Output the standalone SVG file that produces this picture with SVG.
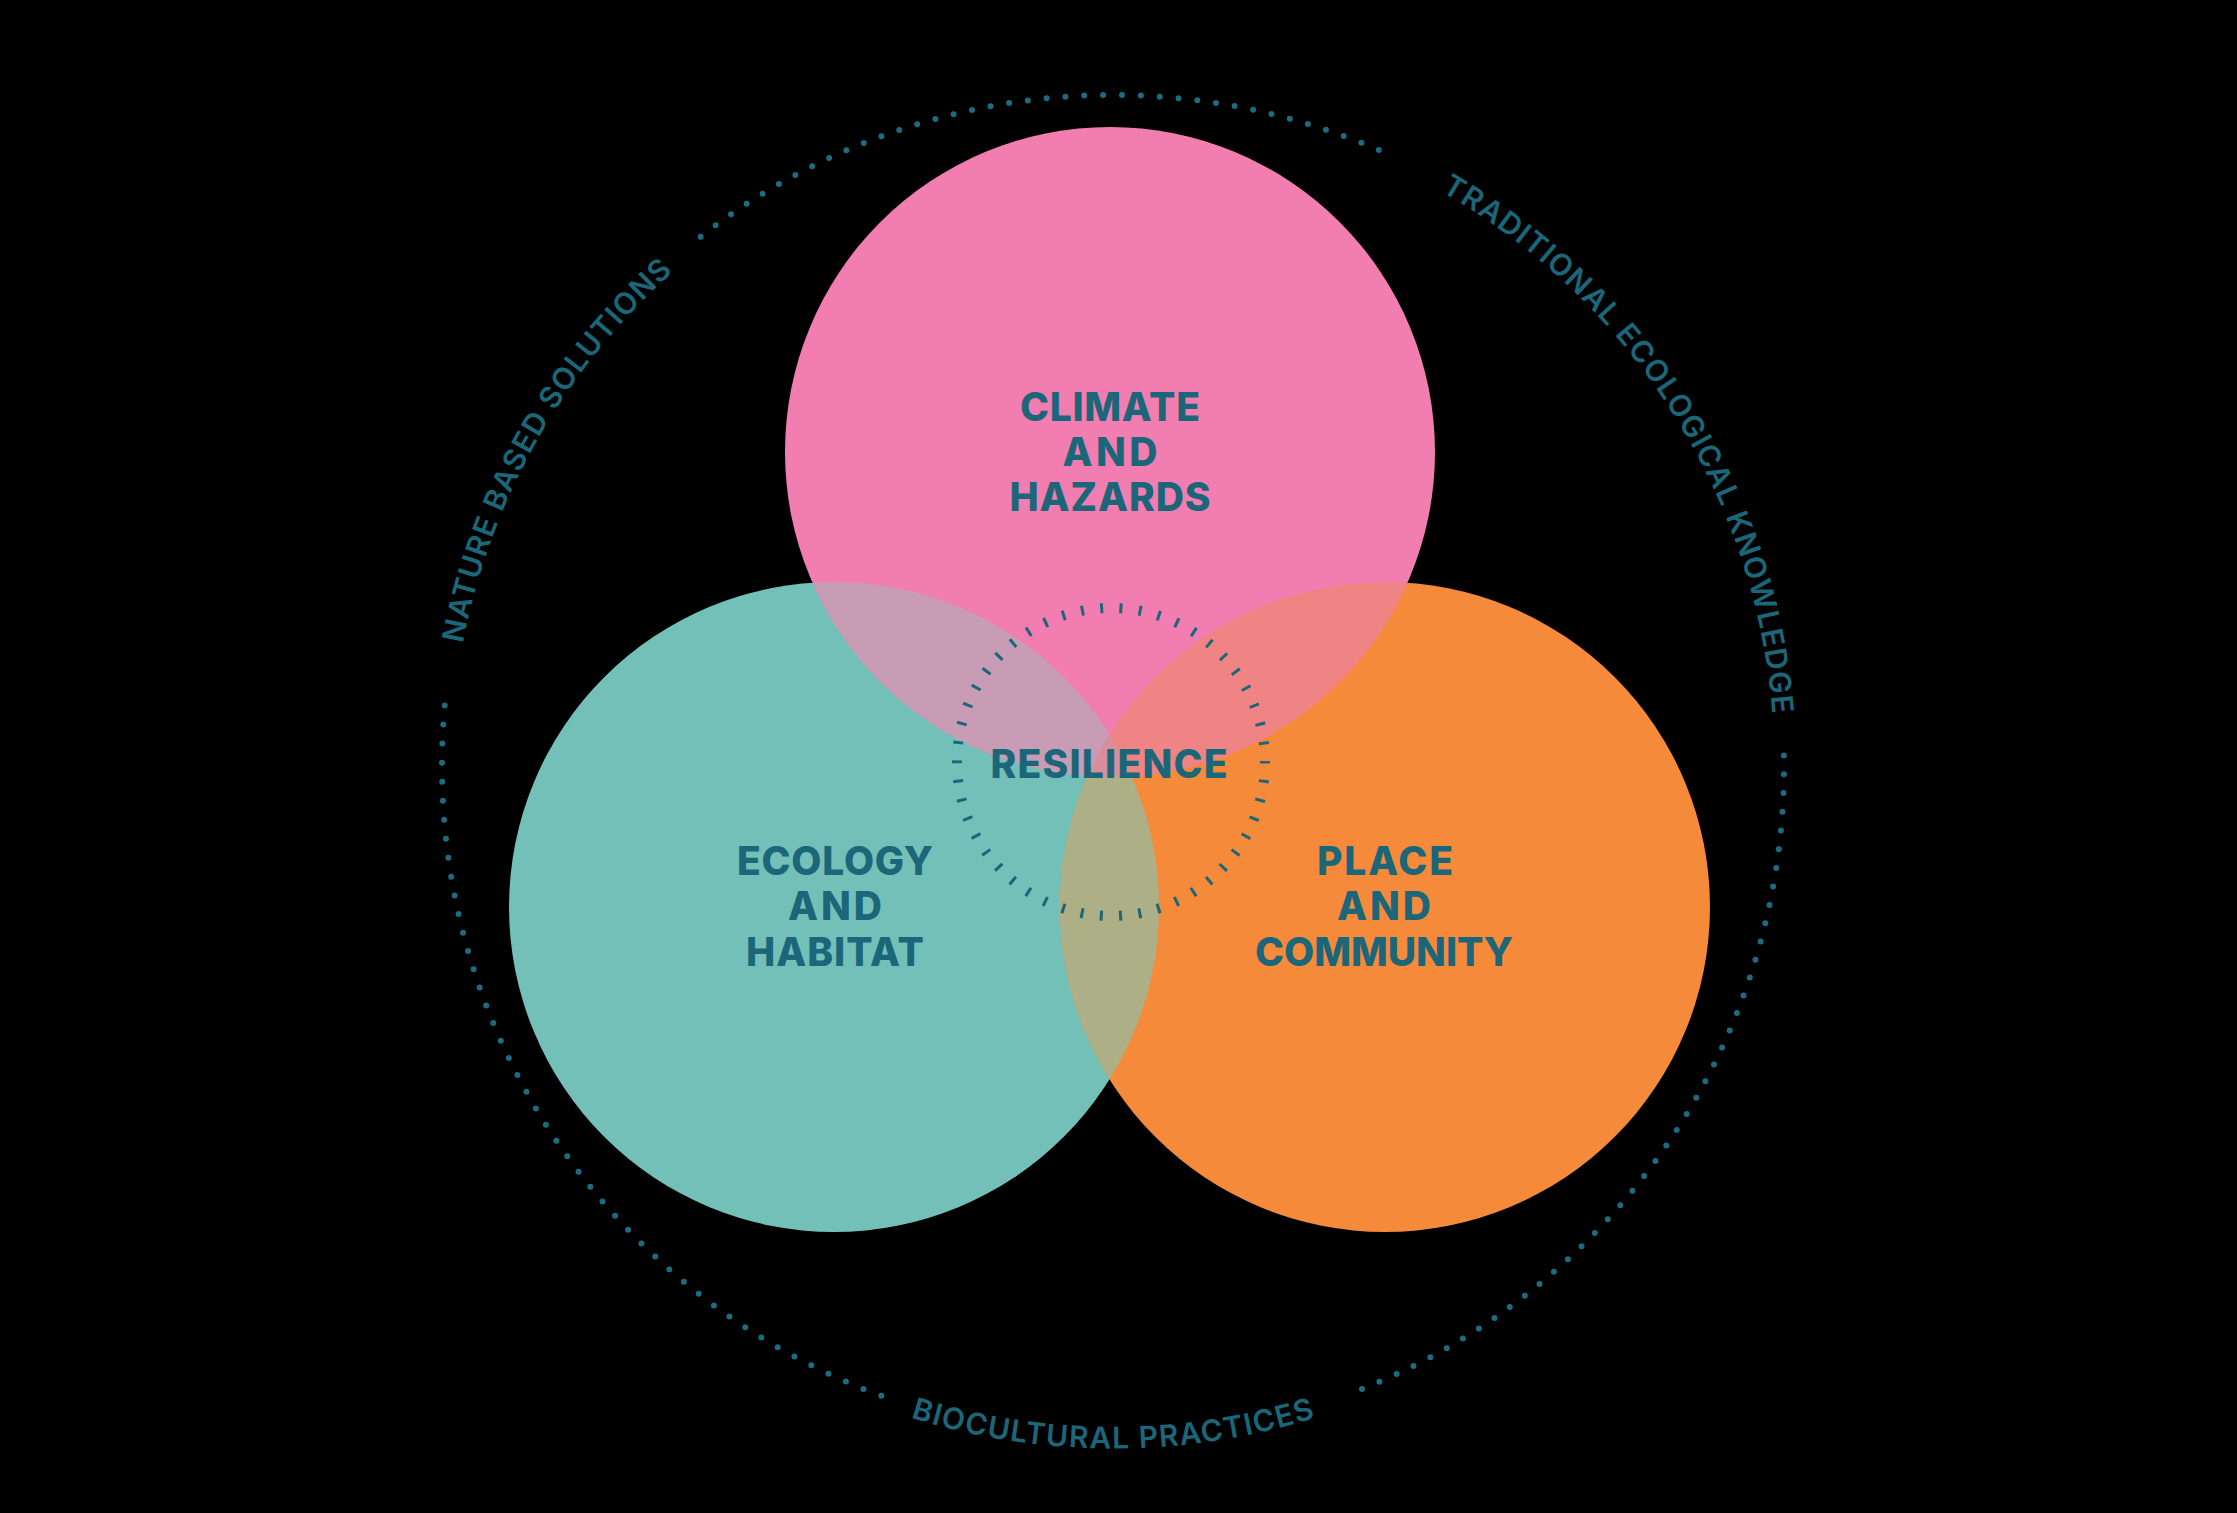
<svg xmlns="http://www.w3.org/2000/svg" width="2237" height="1513" viewBox="0 0 2237 1513">
  <style>
    .lbl { font-family: Inter, "Open Sans", "DejaVu Sans", sans-serif; font-weight: 800; font-size: 39px; fill: #1B6679; text-anchor: middle; }
    .ring-lbl { font-family: Inter, "Open Sans", "DejaVu Sans", sans-serif; font-weight: 600; font-size: 30px; fill: #1B6679; }
    .dots { fill: none; stroke: #1D6B80; stroke-width: 6; stroke-linecap: round; }
  </style>
  <defs>
    <clipPath id="cp-pink"><circle cx="1110" cy="452" r="325"/></clipPath>
    <clipPath id="cp-teal"><circle cx="834" cy="907" r="325"/></clipPath>
    <path id="arc-nature" d="M 462.6 886.55 A 661.5 661.5 0 0 1 881.34 146.4"/>
    <path id="arc-trad" d="M 1313.02 135.47 A 661.5 661.5 0 0 1 1768.69 853.49"/>
    <path id="arc-bio" d="M 674.3 1288.8 A 682.5 682.5 0 0 0 1551.7 1288.8"/>
  </defs>
  <rect x="0" y="0" width="2237" height="1513" fill="#000000"/>

  <g id="connectors">
    <path class="dots" stroke-dasharray="0 18.872" d="M 700.66 236.65 A 671 671 0 0 1 1395.52 157.38"/>
    <path class="dots" stroke-dasharray="0 18.817" d="M 1783.92 755.46 A 671 671 0 0 1 1344.70 1395.73"/>
    <path class="dots" stroke-dasharray="0 19.086" d="M 881.30 1395.73 A 671 671 0 0 1 446.72 686.55"/>
  </g>

  <g id="venn">
    <circle cx="834" cy="907" r="325" fill="#72C0B8"/>
    <circle cx="1385" cy="907" r="325" fill="#F58A3B"/>
    <circle cx="1110" cy="452" r="325" fill="#F27DB0"/>
    <circle cx="834" cy="907" r="325" fill="#C89CB5" clip-path="url(#cp-pink)"/>
    <circle cx="1385" cy="907" r="325" fill="#F08384" clip-path="url(#cp-pink)"/>
    <circle cx="1385" cy="907" r="325" fill="#ADAF86" clip-path="url(#cp-teal)"/>
    <g clip-path="url(#cp-pink)">
      <circle cx="1385" cy="907" r="325" fill="#D88E9C" clip-path="url(#cp-teal)"/>
    </g>
  </g>

  <g id="node-climate">
    <text class="lbl" x="1110" y="421" textLength="180" lengthAdjust="spacing">CLIMATE</text>
    <text class="lbl" x="1110" y="466" textLength="95" lengthAdjust="spacing">AND</text>
    <text class="lbl" x="1110" y="511" textLength="201" lengthAdjust="spacing">HAZARDS</text>
  </g>
  <g id="node-ecology">
    <text class="lbl" x="835" y="875" textLength="196" lengthAdjust="spacing">ECOLOGY</text>
    <text class="lbl" x="835" y="920" textLength="94" lengthAdjust="spacing">AND</text>
    <text class="lbl" x="835" y="966" textLength="178" lengthAdjust="spacing">HABITAT</text>
  </g>
  <g id="node-place">
    <text class="lbl" x="1385" y="875" textLength="136" lengthAdjust="spacing">PLACE</text>
    <text class="lbl" x="1384" y="920" textLength="94" lengthAdjust="spacing">AND</text>
    <text class="lbl" x="1384" y="966" textLength="258" lengthAdjust="spacing">COMMUNITY</text>
  </g>
  <g id="node-resilience">
    <circle cx="1111" cy="762" r="154" fill="none" stroke="#1B6679" stroke-width="10" stroke-dasharray="3 16.352" stroke-dashoffset="1.5"/>
    <text class="lbl" x="1109" y="778" textLength="237" lengthAdjust="spacing">RESILIENCE</text>
  </g>

  <g id="label-nature">
    <text class="ring-lbl"><textPath href="#arc-nature" startOffset="50%" text-anchor="middle" textLength="435" lengthAdjust="spacing">NATURE BASED SOLUTIONS</textPath></text>
  </g>
  <g id="label-traditional">
    <text class="ring-lbl"><textPath href="#arc-trad" startOffset="50%" text-anchor="middle" textLength="644" lengthAdjust="spacing">TRADITIONAL ECOLOGICAL KNOWLEDGE</textPath></text>
  </g>
  <g id="label-biocultural">
    <text class="ring-lbl"><textPath href="#arc-bio" startOffset="50%" text-anchor="middle" textLength="411" lengthAdjust="spacing">BIOCULTURAL PRACTICES</textPath></text>
  </g>
</svg>
